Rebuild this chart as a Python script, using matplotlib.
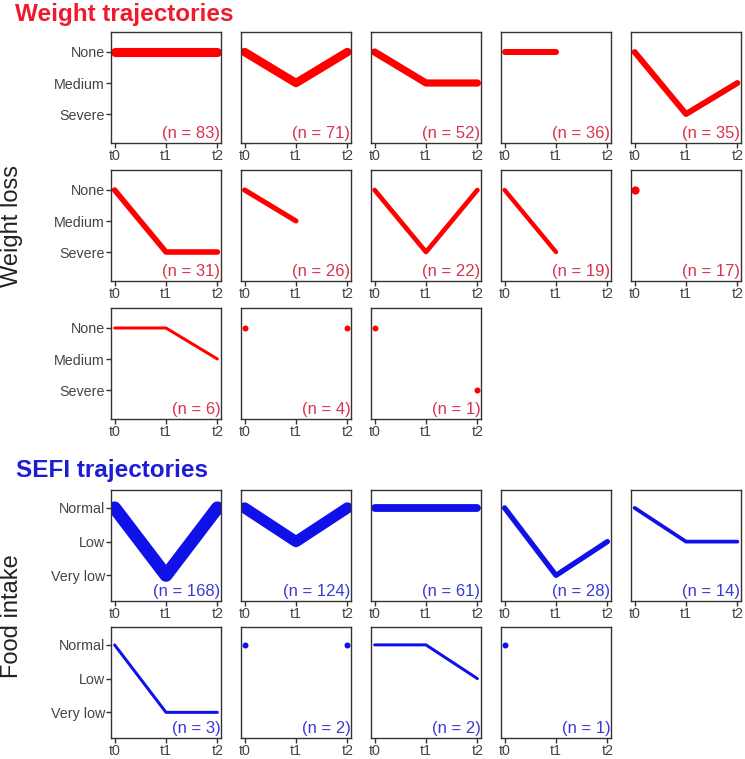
import numpy as np
import matplotlib
matplotlib.use("Agg")
import matplotlib.pyplot as plt

plt.rcParams["font.family"] = ["Liberation Sans", "DejaVu Sans"]

nan = np.nan
TIMES = ["t0", "t1", "t2"]

# Weight loss trajectories (0 = Severe, 1 = Medium, 2 = None)
WEIGHT_LEVELS = ["Severe", "Medium", "None"]
WEIGHT_N = [83, 71, 52, 36, 35, 31, 26, 22, 19, 17, 6, 4, 1]
WEIGHT_TRAJ = [
    [2, 2, 2],
    [2, 1, 2],
    [2, 1, 1],
    [2, 2, nan],
    [2, 0, 1],
    [2, 0, 0],
    [2, 1, nan],
    [2, 0, 2],
    [2, 0, nan],
    [2, nan, nan],
    [2, 2, 1],
    [2, nan, 2],
    [2, nan, 0],
]

# SEFI (food intake) trajectories (0 = Very low, 1 = Low, 2 = Normal)
SEFI_LEVELS = ["Very low", "Low", "Normal"]
SEFI_N = [168, 124, 61, 28, 14, 3, 2, 2, 1]
SEFI_TRAJ = [
    [2, 0, 2],
    [2, 1, 2],
    [2, 2, 2],
    [2, 0, 1],
    [2, 1, 1],
    [2, 0, 0],
    [2, nan, 2],
    [2, 2, 1],
    [2, nan, nan],
]

W, H = 745, 759
DPI = 100
PX = 72.0 / DPI  # points per pixel

RED_LINE = "#FF0000"
RED_TITLE = "#EE1B2C"
RED_TXT = "#D8344E"
BLUE_LINE = "#1010E8"
BLUE_TITLE = "#1C1CD6"
BLUE_TXT = "#3B3BD4"
AX_C = "#333333"
TICK_C = "#444444"

fig = plt.figure(figsize=(W / DPI, H / DPI), dpi=DPI)
fig.patch.set_facecolor("white")


def add_panel(left, top, w, h, traj, n, levels, ylim, col, txt_col, show_y):
    ax = fig.add_axes([left / W, 1 - (top + h) / H, w / W, h / H])
    x = np.arange(len(TIMES))
    y = np.array(traj, dtype=float)
    lw = max(3.0, np.sqrt(n)) * PX
    ax.plot(x, y, color=col, lw=lw, solid_capstyle="round", solid_joinstyle="round")
    # isolated points (no neighbour on either side)
    ms = max(6.0, 2.0 * np.sqrt(n)) * PX
    for i in range(len(y)):
        if np.isnan(y[i]):
            continue
        left_ok = i > 0 and not np.isnan(y[i - 1])
        right_ok = i < len(y) - 1 and not np.isnan(y[i + 1])
        if not (left_ok or right_ok):
            ax.plot([x[i]], [y[i]], "o", color=col, ms=ms, mec="none")
    ax.set_xlim(-0.07, 2.07)
    ax.set_ylim(*ylim)
    ax.set_xticks(x)
    ax.set_xticklabels(TIMES)
    ax.set_yticks(range(len(levels)))
    if show_y:
        ax.set_yticklabels(levels)
    else:
        ax.tick_params(axis="y", left=False, labelleft=False)
    ax.tick_params(axis="both", direction="out", length=3.5, width=1.0,
                   color=AX_C, labelcolor=TICK_C, labelsize=10.3, pad=1.0)
    for s in ax.spines.values():
        s.set_color(AX_C)
        s.set_linewidth(1.0)
    ax.text(0.995, 0.015, f"(n = {n})", transform=ax.transAxes, ha="right",
            va="bottom", color=txt_col, fontsize=12)
    return ax


COL_LEFT = [111 + 130 * c for c in range(5)]
PW = 110

# Weight section
for k, (traj, n) in enumerate(zip(WEIGHT_TRAJ, WEIGHT_N)):
    r, c = divmod(k, 5)
    add_panel(COL_LEFT[c], 32 + 138 * r, PW, 111, traj, n, WEIGHT_LEVELS,
              (-0.935, 2.645), RED_LINE, RED_TXT, c == 0)

# SEFI section
for k, (traj, n) in enumerate(zip(SEFI_TRAJ, SEFI_N)):
    r, c = divmod(k, 5)
    add_panel(COL_LEFT[c], 490 + 137 * r, PW, 111, traj, n, SEFI_LEVELS,
              (-0.76, 2.53), BLUE_LINE, BLUE_TXT, c == 0)

fig.text(15 / W, 1 - 14 / H, "Weight trajectories", color=RED_TITLE,
         fontsize=17.5, fontweight="bold", ha="left", va="center")
fig.text(16 / W, 1 - 470 / H, "SEFI trajectories", color=BLUE_TITLE,
         fontsize=17.5, fontweight="bold", ha="left", va="center")
fig.text(12 / W, 1 - 226 / H, "Weight loss", color="#222222", fontsize=17,
         rotation=90, ha="center", va="center")
fig.text(12 / W, 1 - 616 / H, "Food intake", color="#222222", fontsize=17,
         rotation=90, ha="center", va="center")

fig.savefig("out.png", dpi=DPI, facecolor="white")
